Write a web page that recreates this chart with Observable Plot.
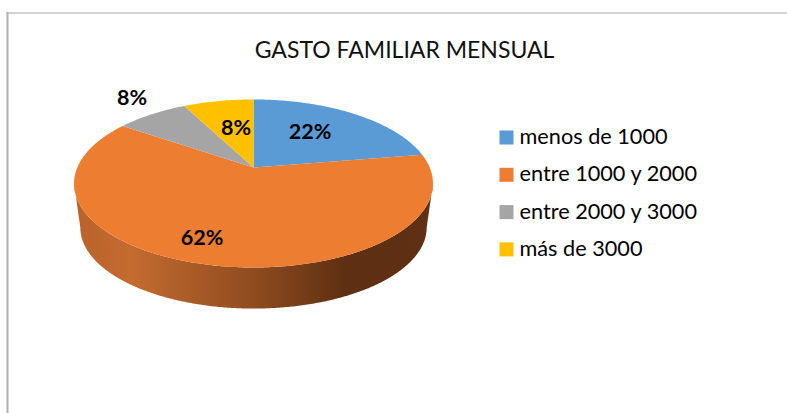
<!DOCTYPE html>
<html>
<head>
<meta charset="utf-8">
<script src="https://cdn.jsdelivr.net/npm/d3@7"></script>
<script src="https://cdn.jsdelivr.net/npm/@observablehq/plot@0.6"></script>
<style>html,body{margin:0;padding:0;background:#fff}svg{display:block}</style>
</head>
<body>
<div id="chart"></div>
<script>
const titleText = "GASTO FAMILIAR MENSUAL";
const categories = ["menos de 1000", "entre 1000 y 2000", "entre 2000 y 3000", "más de 3000"];
const shares = [22.4, 62.2, 7.8, 7.6];
const colors = ["#5b9bd5", "#ed7d31", "#a5a5a5", "#ffc000"];

// perspective view of the disc
const cx = 253, cy = 167, a = 176.2, b = 81, k = 0.19;
const project = (t, r = 1) => {
  const u = r * Math.sin(t), v = r * Math.cos(t), w = 1 + k * v;
  return {x: cx + a * u / w, y: cy - b * v / w};
};
const total = d3.sum(shares);
let acc = 0;
const slices = shares.map((s, i) => {
  const t0 = acc / total * 2 * Math.PI;
  acc += s;
  const t1 = acc / total * 2 * Math.PI;
  return {i, t0, t1, name: categories[i], fill: colors[i]};
});
const topPoints = slices.flatMap(s => {
  const n = Math.ceil((s.t1 - s.t0) * 60), pts = [{...project(0, 0), key: s.name}];
  for (let j = 0; j <= n; j++) pts.push({...project(s.t0 + (s.t1 - s.t0) * j / n), key: s.name});
  return pts;
});
// visible side wall: lower half of the rim, base slightly smaller through perspective
const rim = d3.range(0, 721).map(j => project(j / 720 * 2 * Math.PI));
const iR = d3.maxIndex(rim, d => d.x), iL = d3.minIndex(rim, d => d.x);
const front = rim.slice(iR, iL + 1);
const baseScale = 0.965, rimMidY = 183, baseMidY = 227;
const sidePoints = [...front, ...front.slice().reverse().map(p => ({
  x: cx + (p.x - cx) * baseScale,
  y: baseMidY + (p.y - rimMidY) * baseScale
}))];

const gradient = () => {
  const g = d3.create("svg:defs");
  const lg = g.append("linearGradient").attr("id", "side").attr("gradientUnits", "userSpaceOnUse")
    .attr("x1", 73).attr("x2", 432).attr("y1", 0).attr("y2", 0);
  [[0, "#b8622a"], [0.16, "#c46b2f"], [0.5, "#8f4c1f"], [0.76, "#5e2f12"], [1, "#5f3012"]]
    .forEach(([o, c]) => lg.append("stop").attr("offset", o).attr("stop-color", c));
  return g.node();
};

const labelSpots = [
  {x: 309.5, y: 132},
  {x: 201.5, y: 238},
  {x: 131.5, y: 97.5},
  {x: 235.5, y: 127.5}
];
const labels = labelSpots.map((p, i) => ({...p, text: `${Math.round(shares[i])}%`}));
const legend = categories.map((name, i) => ({name, fill: colors[i], y: 137 + i * 37.3}));

const font = "Lato, 'Open Sans', sans-serif";
const plot = Plot.plot({
  width: 787, height: 413, margin: 0,
  x: {domain: [0, 787], range: [0, 787], axis: null},
  y: {domain: [0, 413], range: [0, 413], axis: null},
  style: {background: "#fff", fontFamily: font},
  marks: [
    gradient,
    Plot.ruleY([12.5], {x1: 6, x2: 787, stroke: "#a6a6a6", strokeWidth: 1}),
    Plot.ruleX([7], {y1: 12, y2: 413, stroke: "#b0b0b0", strokeWidth: 2}),
    Plot.line(sidePoints, {x: "x", y: "y", fill: "url(#side)", stroke: "none", curve: "linear"}),
    Plot.line(topPoints, {x: "x", y: "y", z: "key", fill: d => colors[categories.indexOf(d.key)], stroke: "none", curve: "linear"}),
    Plot.text([titleText], {x: 404, y: 50, text: d => d, fontSize: 23, fill: "#111"}),
    Plot.text(labels, {x: "x", y: "y", text: "text", fontSize: 21.5, fontWeight: 700, fill: "#000"}),
    Plot.dot(legend, {x: 506, y: "y", symbol: "square", r: 7.9, fill: "fill", stroke: null}),
    Plot.text(legend, {x: 519, y: d => d.y - 0.5, text: "name", textAnchor: "start", fontSize: 21.7, fill: "#000"})
  ]
});
document.getElementById("chart").append(plot);
</script>
</body>
</html>
